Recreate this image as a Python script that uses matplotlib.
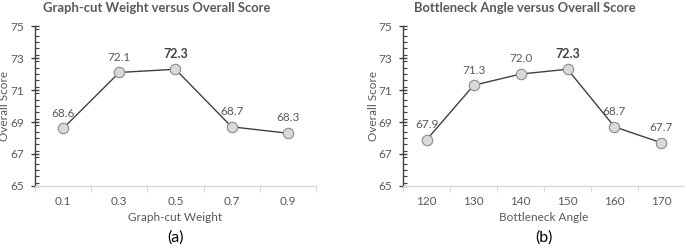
import matplotlib
matplotlib.use("Agg")
import matplotlib.pyplot as plt
from matplotlib.ticker import MultipleLocator

plt.rcParams['font.family'] = ['Lato', 'DejaVu Sans']

# data
weights = ['0.1', '0.3', '0.5', '0.7', '0.9']
weight_scores = [68.6, 72.1, 72.3, 68.7, 68.3]
angles = ['120', '130', '140', '150', '160', '170']
angle_scores = [67.9, 71.3, 72.0, 72.3, 68.7, 67.7]

TXT = '#595959'

fig = plt.figure(figsize=(6.85, 2.46), dpi=100)


def panel(rect, cats, vals, title, xlabel, tag):
    ax = fig.add_axes(rect)
    x = list(range(len(cats)))
    ax.plot(x, vals, color='#404040', lw=1.0, marker='o', ms=7.5,
            mfc='#d9d9d9', mec='#8c8c8c', mew=0.8, zorder=3)
    best = max(vals)
    for xi, v in zip(x, vals):
        ax.annotate(f'{v:.1f}', (xi, v), xytext=(0, 7), textcoords='offset points',
                    ha='center', va='bottom', fontsize=9 if v == best else 8.5,
                    color='#404040' if v == best else TXT,
                    fontweight='bold' if v == best else 'normal')
    ax.set_xlim(-0.5, len(cats) - 0.5)
    ax.set_ylim(65, 75)
    ax.set_yticks([65, 67, 69, 71, 73, 75])
    ax.yaxis.set_minor_locator(MultipleLocator(0.4))
    ax.set_xticks(x)
    ax.set_xticklabels(cats)
    ax.set_xticks([i - 0.5 for i in range(len(cats) + 1)], minor=True)
    for s in ['top', 'right']:
        ax.spines[s].set_visible(False)
    ax.spines['left'].set_color('#404040')
    ax.spines['left'].set_linewidth(1.0)
    ax.spines['bottom'].set_color('#d9d9d9')
    ax.spines['bottom'].set_linewidth(1.0)
    ax.tick_params(axis='y', which='major', direction='inout', length=6,
                   width=1, color='#404040', labelsize=8.5, labelcolor=TXT, pad=5)
    ax.tick_params(axis='y', which='minor', direction='in', length=3,
                   width=0.8, color='#404040')
    ax.tick_params(axis='x', which='major', length=0, labelsize=8.5,
                   labelcolor=TXT, pad=7)
    ax.tick_params(axis='x', which='minor', direction='out', length=4,
                   width=0.8, color='#d9d9d9')
    ax.set_ylabel('Overall Score', fontsize=8.5, color=TXT)
    ax.yaxis.set_label_coords(-0.088, 0.5)
    ax.set_xlabel(xlabel, fontsize=8.5, color=TXT, labelpad=4)
    ax.set_title(title, fontsize=9.4, fontweight='bold', color=TXT, pad=10, x=0.432)
    ax.text(0.5, -0.325, tag, transform=ax.transAxes, ha='center', va='center',
            fontsize=11.5, color='#000000')
    return ax


panel([0.0511, 0.244, 0.410, 0.650], weights, weight_scores,
      'Graph-cut Weight versus Overall Score', 'Graph-cut Weight', '(a)')
panel([0.5888, 0.244, 0.411, 0.650], angles, angle_scores,
      'Bottleneck Angle versus Overall Score', 'Bottleneck Angle', '(b)')

fig.savefig('out.png', dpi=100)
